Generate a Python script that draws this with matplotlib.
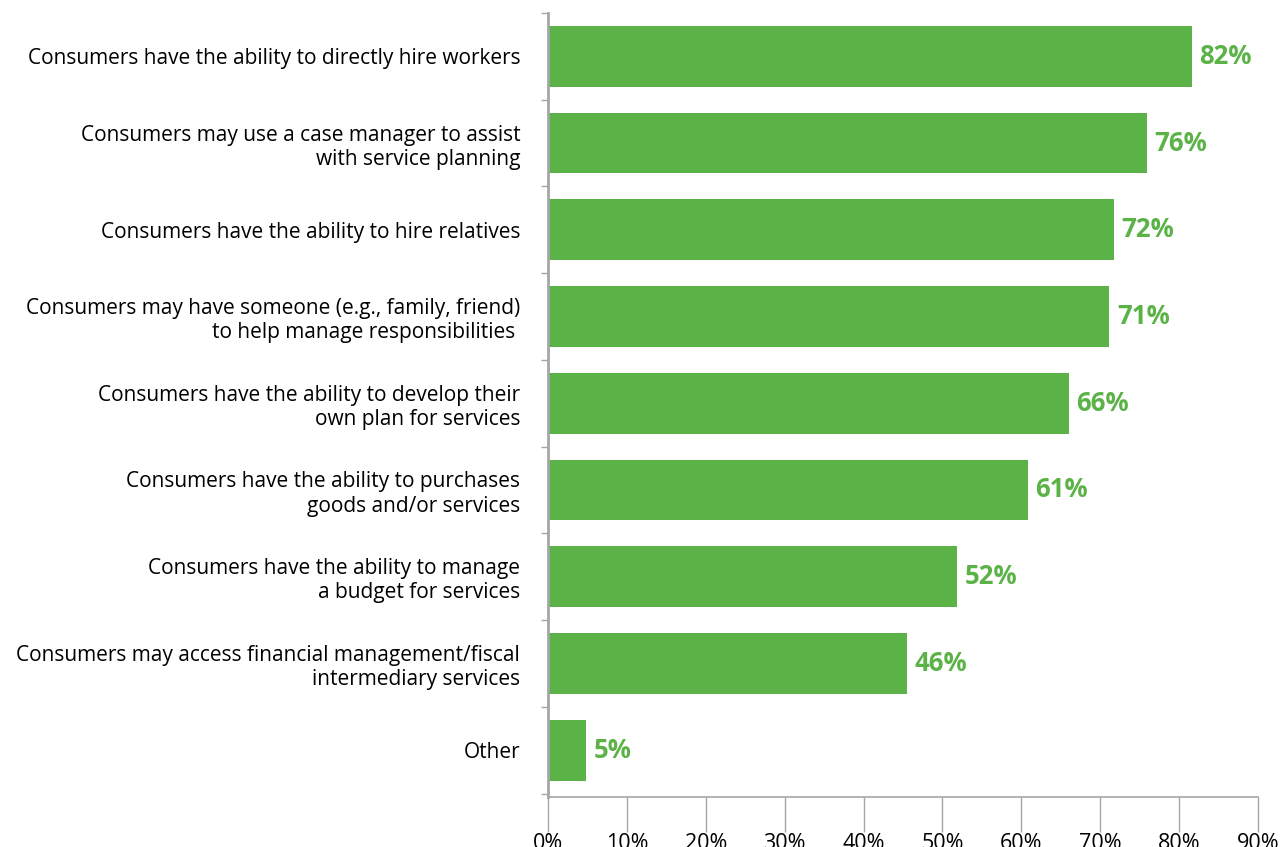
import matplotlib
matplotlib.use('Agg')
from matplotlib import pyplot as plt
import numpy as np

labels = [
    'Consumers have the ability to directly hire workers',
    'Consumers may use a case manager to assist\nwith service planning',
    'Consumers have the ability to hire relatives',
    'Consumers may have someone (e.g., family, friend)\nto help manage responsibilities ',
    'Consumers have the ability to develop their\nown plan for services',
    'Consumers have the ability to purchases\ngoods and/or services',
    'Consumers have the ability to manage\na budget for services',
    'Consumers may access financial management/fiscal\nintermediary services',
    'Other',
]
values = [81.6, 75.9, 71.7, 71.1, 66.0, 60.8, 51.8, 45.5, 4.8]
value_labels = ['82%', '76%', '72%', '71%', '66%', '61%', '52%', '46%', '5%']
xticks = np.arange(0, 100, 10)

green = '#5bb347'
grey = '#a6a6a6'
plt.rcParams['font.family'] = ['Open Sans', 'DejaVu Sans']

fig = plt.figure(figsize=(12.86, 8.47), dpi=100)
ax = fig.add_axes([548/1286, 50/847, 710/1286, 784/847])

y = np.arange(len(labels))
ax.barh(y, values, height=0.7, color=green)
for yi, v, t in zip(y, values, value_labels):
    ax.text(v + 1.0, yi, t, va='center', ha='left', color=green,
            fontsize=18.5, fontweight='bold')

ax.set_xlim(0, 90)
ax.set_ylim(8.54, -0.5)
ax.set_xticks(xticks)
ax.set_xticklabels(['%d%%' % t for t in xticks], fontsize=15.5)
ax.tick_params(axis='x', length=25, width=1, color=grey, pad=1)

ax.set_yticks(y)
ax.set_yticklabels(labels, fontsize=15, ha='right', linespacing=1.2)
ax.tick_params(axis='y', which='major', length=0, pad=20)
ax.set_yticks(np.arange(-0.5, 9, 1), minor=True)
ax.tick_params(axis='y', which='minor', length=5, width=1, color=grey)

for s in ['top', 'right']:
    ax.spines[s].set_visible(False)
ax.spines['left'].set_color(grey)
ax.spines['left'].set_linewidth(2)
ax.spines['bottom'].set_color(grey)
ax.spines['bottom'].set_linewidth(1.2)

fig.savefig('out.png', dpi=100)
